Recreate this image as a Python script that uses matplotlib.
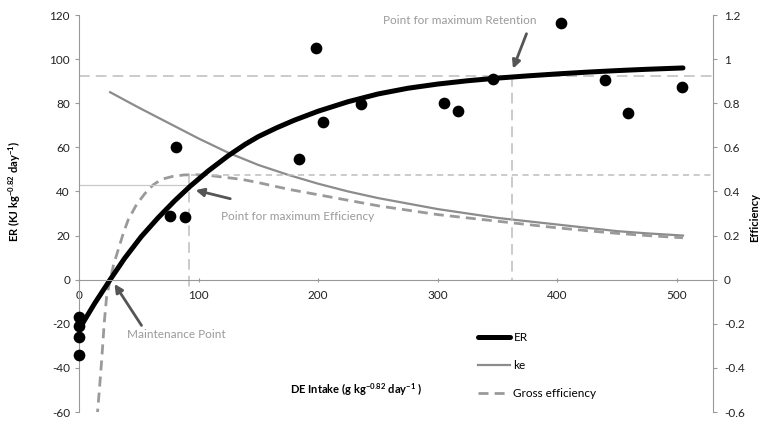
"""
ER and efficiency against DE intake (re-drawn chart)
"""
import matplotlib
matplotlib.use("Agg")
import matplotlib.pyplot as plt
from matplotlib.ticker import FuncFormatter

plt.rcParams['font.family'] = ['Lato', 'DejaVu Sans']
plt.rcParams['axes.unicode_minus'] = False
plt.rcParams['mathtext.default'] = 'regular'

# observed energy retention points
PTS_X = [0, 0, 0, 0, 76, 89, 81, 198, 184, 204, 236, 305, 317, 346, 403, 440, 459, 504]
PTS_Y = [-17, -21, -26, -34, 29, 28.5, 60, 105, 54.5, 71.5, 79.5, 80, 76.5, 91, 116.5, 90.5, 75.5, 87.5]

# fitted ER curve
ER_X = [0, 13, 26, 38, 52, 66, 80, 93, 108, 125, 139, 150, 165, 180, 200, 225,
        250, 275, 300, 325, 350, 375, 400, 425, 450, 475, 505]
ER_Y = [-22.5, -10.8, 0, 9.6, 19.5, 28, 35.8, 42.4, 49.3, 56.3, 61.4, 64.9,
        68.8, 72.3, 76.4, 80.7, 84.2, 86.8, 88.7, 90.2, 91.4, 92.4, 93.3, 94.1,
        94.8, 95.4, 96]

# ke (right axis)
KE_X = [26, 50, 75, 100, 125, 150, 175, 200, 225, 250, 275, 300, 325, 350,
        375, 400, 425, 450, 475, 505]
KE_Y = [0.85, 0.78, 0.71, 0.64, 0.575, 0.52, 0.475, 0.435, 0.40, 0.37, 0.345,
        0.32, 0.30, 0.28, 0.265, 0.25, 0.235, 0.22, 0.21, 0.20]

# gross efficiency (right axis)
GE_X = [15, 17, 19, 21, 23, 26, 29, 33, 37, 41, 48, 55, 62, 69, 78, 88, 98,
        110, 122, 136, 150, 175, 200, 225, 250, 275, 300, 325, 350, 375, 400,
        425, 450, 475, 505]
GE_Y = [-0.63, -0.5, -0.36, -0.2, -0.08, 0, 0.07, 0.14, 0.21, 0.27, 0.34,
        0.39, 0.43, 0.455, 0.468, 0.475, 0.476, 0.472, 0.464, 0.455, 0.44, 0.41,
        0.385, 0.36, 0.335, 0.315, 0.295, 0.28, 0.265, 0.25, 0.235, 0.222,
        0.21, 0.20, 0.19]

# key points
EFF_X, EFF_ER, EFF_MAX = 92, 42.7, 0.475
RET_X, RET_ER = 362, 92.5

X_TICKS = [0, 100, 200, 300, 400, 500]
ER_TICKS = [-60, -40, -20, 0, 20, 40, 60, 80, 100, 120]
EFF_TICKS = [-0.6, -0.4, -0.2, 0, 0.2, 0.4, 0.6, 0.8, 1.0, 1.2]

SPINE = '#999999'
REF = '#bdbdbd'
NOTE = '#9a9a9a'
ARROW = '#555555'

fig = plt.figure(figsize=(7.6, 4.23), dpi=100)
ax = fig.add_axes([0.104, 0.026, 0.834, 0.9385])
ax2 = ax.twinx()
ax.set_zorder(ax2.get_zorder() + 1)
ax.patch.set_visible(False)

ax.set_xlim(0, 530)
ax.set_ylim(-60, 120)
ax2.set_ylim(-0.6, 1.2)

# efficiency curves
ke_line, = ax2.plot(KE_X, KE_Y, color='#8c8c8c', lw=1.6, label='ke')
ge_line, = ax2.plot(GE_X, GE_Y, color='#9a9a9a', lw=2.0, dashes=(3.6, 2.2),
                    label='Gross efficiency')

# reference lines
ax.plot([0, 530], [RET_ER, RET_ER], color=REF, lw=1.1, dashes=(7, 4))
ax.plot([RET_X, RET_X], [RET_ER, 0], color=REF, lw=1.1, dashes=(7, 4))
ax2.plot([EFF_X + 2, 530], [EFF_MAX, EFF_MAX], color=REF, lw=1.1, dashes=(4, 3))
ax.plot([0, EFF_X], [EFF_ER, EFF_ER], color='#c8c8c8', lw=0.9)
ax.plot([EFF_X, EFF_X], [EFF_MAX * 100, -5], color=REF, lw=1.1, dashes=(7, 4),
        clip_on=False)

er_line, = ax.plot(ER_X, ER_Y, color='black', lw=3.6, solid_capstyle='round',
                   solid_joinstyle='round', label='ER')
ax.scatter(PTS_X, PTS_Y, s=55, color='black', zorder=5, clip_on=False)

# annotations
ax.text(318, 117.3, 'Point for maximum Retention', color=NOTE, fontsize=8.5,
        ha='center', va='center')
ax.annotate('', xy=(RET_X, 94.5), xytext=(375, 112.7),
            arrowprops=dict(arrowstyle='-|>', color=ARROW, lw=2, mutation_scale=12))
ax.text(118.6, 28.6, 'Point for maximum Efficiency', color=NOTE, fontsize=8.5,
        ha='left', va='center')
ax.annotate('', xy=(95.2, 40.9), xytext=(128.7, 36.4),
            arrowprops=dict(arrowstyle='-|>', color=ARROW, lw=2, mutation_scale=12))
ax.text(40, -25, 'Maintenance Point', color=NOTE, fontsize=8.5,
        ha='left', va='center')
ax.annotate('', xy=(28.4, -0.9), xytext=(53.5, -21.8),
            arrowprops=dict(arrowstyle='-|>', color=ARROW, lw=2, mutation_scale=12))

# axes styling
for s in ['top', 'right']:
    ax.spines[s].set_visible(False)
for s in ['top', 'left', 'bottom']:
    ax2.spines[s].set_visible(False)
ax.spines['bottom'].set_position(('data', 0))
ax.spines['bottom'].set_color(SPINE)
ax.spines['left'].set_color(SPINE)
ax2.spines['right'].set_color(SPINE)

ax.set_xticks(X_TICKS)
ax.set_yticks(ER_TICKS)
ax2.set_yticks(EFF_TICKS)
ax2.yaxis.set_major_formatter(FuncFormatter(lambda v, p: f'{v:g}'))
ax.tick_params(axis='y', colors=SPINE, labelcolor='#222222', labelsize=8.5,
               length=3, width=0.8)
ax.tick_params(axis='x', colors=SPINE, labelcolor='#222222', labelsize=8.5,
               length=3, width=0.8, direction='inout', pad=6)
ax2.tick_params(axis='y', colors=SPINE, labelcolor='#222222', labelsize=8.5,
                length=3, width=0.8, pad=5)

ax.set_ylabel('ER (KJ kg$^{-0.82}$ day$^{-1}$)', fontsize=8, fontweight='bold',
              labelpad=0)
ax.yaxis.set_label_coords(-0.088, 0.557)
ax2.set_ylabel('Efficiency', fontsize=8, fontweight='bold')
ax2.yaxis.set_label_coords(1.057, 0.49)
ax.text(232, -50, 'DE Intake (g kg$^{-0.82}$ day$^{-1}$ )', fontsize=8,
        fontweight='bold', ha='center', va='center')

fig.legend(handles=[er_line, ke_line, ge_line], loc='upper left',
           bbox_to_anchor=(478 / 760, 1 - 332 / 423), frameon=False,
           fontsize=8.5, handlelength=2.7, handletextpad=0.3, labelspacing=1.45,
           borderpad=0, borderaxespad=0)

fig.savefig('out.png', dpi=100)
